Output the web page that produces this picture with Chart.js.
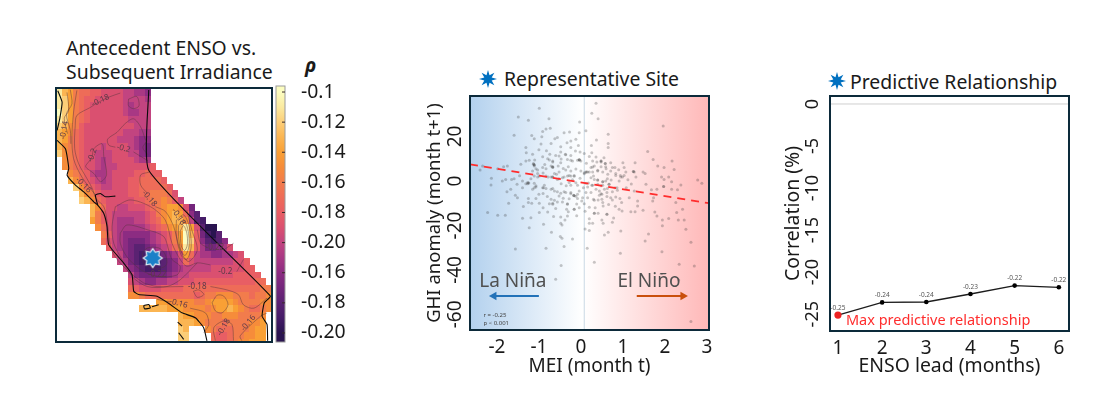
<!DOCTYPE html>
<html>
<head>
<meta charset="utf-8">
<title>ENSO and irradiance</title>
<script src="https://cdn.jsdelivr.net/npm/chart.js@4"></script>
<style>
  html, body { margin: 0; background: #fff; }
  body { position: relative; width: 1118px; height: 415px; overflow: hidden; font-family: "Noto Sans", sans-serif; color: #1a1a1a; }
  canvas { position: absolute; }
  .title { position: absolute; font-size: 19.4px; line-height: 24px; white-space: nowrap; }
  .star { position: absolute; }
</style>
</head>
<body>
<div class="title" style="left:66px;top:36px">Antecedent ENSO vs.<br>Subsequent Irradiance</div>
<div class="title" style="left:305px;top:53px;font-weight:bold;font-style:italic">ρ</div>
<div class="title" style="left:504px;top:67px">Representative Site</div>
<div class="title" style="left:850px;top:70px">Predictive Relationship</div>
<svg class="star" id="star1" style="left:479px;top:70px" width="18" height="18"></svg>
<svg class="star" id="star2" style="left:828px;top:72px" width="18" height="18"></svg>
<canvas id="map" style="left:50px;top:80px" width="225" height="270"></canvas>
<canvas id="bar" style="left:270px;top:80px" width="90" height="270"></canvas>
<canvas id="site" style="left:424px;top:90px" width="296" height="288"></canvas>
<canvas id="lead" style="left:782px;top:90px" width="298" height="288"></canvas>
<script>
const FONT = '"Noto Sans", sans-serif'
const FRAME = '#0c2a3a'

// rho x 100 on a lon/lat cell grid, each row begins at rowStart[row]
const rowStart = [0,0,0,0,0,0,0,0,0,0,1,1,2,2,3,4,4,6,6,6,7,8,8,9,10,11,12,13,13,13,13,18,15,22,22,22,22,22]
const rhoRows = [
  [-11,-13,-14,-16,-17,-17,-18,-18,-19,-19,-19,-19,-20,-20,-21,-21,-22],
  [-11,-12,-14,-16,-17,-18,-18,-19,-19,-19,-19,-19,-20,-20,-20,-20,-21],
  [-11,-12,-14,-16,-17,-18,-19,-19,-19,-19,-19,-19,-20,-21,-20,-20,-20],
  [-10,-12,-14,-16,-17,-18,-19,-19,-19,-19,-19,-19,-20,-21,-21,-20,-20],
  [-11,-12,-14,-16,-17,-18,-19,-19,-19,-19,-19,-19,-19,-20,-20,-20,-20],
  [-12,-13,-15,-16,-18,-19,-19,-19,-19,-19,-19,-19,-19,-19,-20,-20,-20],
  [-13,-14,-15,-17,-18,-19,-19,-19,-19,-19,-19,-19,-20,-20,-20,-21,-21],
  [-13,-14,-16,-17,-18,-19,-19,-19,-19,-19,-19,-20,-20,-20,-21,-22,-22],
  [-13,-15,-16,-17,-18,-19,-19,-19,-20,-19,-19,-19,-19,-20,-21,-22,-23],
  [-12,-15,-16,-17,-18,-19,-19,-20,-20,-20,-19,-19,-19,-20,-20,-22,-23],
  [-15,-16,-17,-18,-19,-19,-20,-21,-20,-19,-19,-19,-19,-20,-21,-21],
  [-15,-16,-17,-18,-19,-19,-20,-21,-20,-20,-19,-19,-19,-19,-19,-19,-18],
  [-15,-16,-17,-18,-20,-21,-21,-20,-19,-19,-19,-19,-18,-18,-17,-18,-18],
  [-13,-15,-17,-18,-19,-20,-21,-20,-19,-19,-19,-18,-18,-17,-17,-17,-17,-18],
  [-12,-15,-17,-18,-19,-20,-20,-19,-19,-19,-18,-18,-17,-17,-17,-17,-17,-18],
  [-13,-15,-16,-18,-19,-19,-19,-19,-19,-18,-18,-17,-17,-16,-16,-16,-17,-19],
  [-12,-13,-15,-17,-18,-19,-19,-19,-19,-19,-18,-18,-17,-16,-16,-15,-16,-18,-20],
  [-13,-15,-17,-19,-19,-20,-20,-19,-19,-19,-18,-17,-16,-15,-14,-14,-15,-19,-23],
  [-13,-16,-18,-19,-20,-20,-20,-20,-20,-20,-19,-18,-16,-15,-14,-13,-14,-17,-22,-24],
  [-14,-16,-18,-19,-20,-21,-21,-21,-20,-20,-19,-18,-17,-15,-14,-13,-13,-15,-20,-24,-25],
  [-15,-17,-19,-20,-21,-21,-21,-21,-21,-20,-19,-18,-17,-15,-14,-13,-11,-14,-19,-24,-26,-26],
  [-16,-18,-20,-21,-22,-22,-22,-22,-22,-21,-20,-19,-18,-16,-14,-10,-13,-18,-23,-25,-26,-24],
  [-17,-19,-20,-21,-22,-23,-23,-23,-22,-21,-20,-19,-18,-16,-14,-10,-12,-18,-22,-24,-25,-24,-22],
  [-18,-20,-21,-22,-23,-24,-24,-23,-22,-21,-20,-19,-17,-15,-11,-13,-18,-21,-23,-23,-22,-21,-19],
  [-19,-20,-22,-23,-24,-25,-25,-25,-24,-23,-22,-21,-19,-14,-17,-20,-21,-21,-22,-22,-21,-21,-20,-19],
  [-20,-21,-23,-24,-25,-25,-25,-25,-24,-23,-22,-20,-17,-19,-20,-20,-20,-20,-20,-20,-20,-19,-19,-18],
  [-20,-22,-23,-24,-25,-25,-25,-24,-23,-22,-21,-20,-20,-20,-20,-20,-19,-19,-19,-19,-19,-19,-18,-18],
  [-20,-22,-23,-23,-23,-23,-23,-22,-21,-20,-20,-19,-19,-19,-19,-19,-19,-19,-19,-18,-18,-18,-18,-18],
  [-19,-20,-21,-22,-22,-21,-21,-20,-20,-19,-19,-19,-18,-18,-18,-18,-18,-18,-18,-18,-18,-18,-18,-17,-17],
  [-17,-18,-19,-19,-19,-19,-18,-18,-18,-18,-17,-17,-17,-17,-17,-17,-17,-17,-17,-17,-17,-17,-17,-17,-16,-16],
  [-15,-15,-16,-17,-17,-17,-17,-17,-17,-17,-17,-17,-18,-17,-16,-16,-15,-15,-15,-16,-16,-16,-17,-16,-16,-15],
  [-14,-14,-15,-15,-15,-15,-15,-16,-16,-15,-14,-14,-14,-14,-15,-16,-16,-16,-16,-15,-15],
  [-13,-13,-13,-13,-13,-14,-14,-14,-15,-15,-15,-15,-16,-15,-14,-14,-13,-14,-15,-16,-17,-17,-16,-15],
  [-13,-14,-14,-15,-15,-15,-16,-16,-15,-15,-15,-16,-16,-16,-16,-15],
  [-13,-13,-13,-14,-15,-16,-16,-16,-17,-16,-16,-16,-16,-15,-15,-14],
  [-12,-13,null,null,null,-15,-16,-17,-17,-17,-16,-16,-16,-15,-14,-14],
  [-12,-12,null,null,null,null,-17,-18,-18,-17,-16,-16,-15,-15,-14,-14],
  [-12,-12,null,null,null,null,-17,-18,-18,-17,-16,-15,-15,-14,-14,-14]
]

// colour ramp, rho x 100 paired with a colour
const rampValues = [-10,-11,-12,-13,-14,-15,-16,-17,-18,-19,-20,-21,-22,-23,-24,-25,-26]
const rampColors = ['#fcfdc0','#fbeaa0','#fcce78','#fbb552','#f9a035','#f68c3a','#f27c4c','#ee6c58','#e85e64','#da5070','#c24480','#a83884','#8c2c82','#74267c','#5a2272','#451c68','#2a1450']
const barTicks = [-0.10,-0.12,-0.14,-0.16,-0.18,-0.20,-0.22,-0.24,-0.26]
const barLabels = ['-0.1','-0.12','-0.14','-0.16','-0.18','-0.20','-0.16','-0.18','-0.20']

// state outline in grid cells
const northCoast = [[.12,.25],[.91,1.96],[.48,4.41],[0,6.13]]
const mainCoast = [[0,7.6],[1.52,8.82],[2.12,11.76],[1.82,12.75],[3.33,14.2],[4.85,15.2],[6.67,16.67],[7.39,17.16],[8.48,18.38],[9.09,20.34],[9.39,23.04],[12.12,25.73],[13.64,27.45],[13.94,29.9],[14.85,30.39],[18.18,30.64],[20.6,31.86],[22.73,33.09],[25.15,33.82],[26.67,35.29],[27.27,37.25]]
const eastBorder = [[16.67,.15],[16.67,12],[38.8,30.6],[37.7,31.6],[37.3,33.6],[38.2,34.8],[38.3,37.2]]
const bayDelta = [[7.39,17.16],[6.97,15.69],[7.88,15.44],[8.79,15.93],[10.6,15.83]]
const islandA = [[15.76,32],[16.67,31.86],[16.97,32.35],[15.88,32.5],[15.76,32]]
const islandB = [[17.27,32.2],[18.48,31.9]]
const islandC = [[21.94,34.46],[22.73,35.05]]
const islandD = [[22.12,36.03],[23.03,37]]
const outlines = [northCoast, mainCoast, eastBorder, bayDelta, islandA, islandB, islandC, islandD]

// contour lines of rho in grid cells
const contours = [
  [[1.8,.5],[2.1,3.2],[1.3,4.3],[1.9,6.6]],
  [[2.4,.1],[2.7,2.2],[1.7,3.7],[2.4,6.1],[2.5,8.1]],
  [[3.6,.2],[3,3.4],[2.7,7.1],[3,10.3],[4.5,13],[7,15.7]],
  [[11.5,.6],[9.4,1.2],[7,2.2],[6.1,2.7],[3.6,3.9],[3.3,5.4],[3.2,8.8],[3.9,11],[5.4,13.2],[6.4,14.7],[7.1,16.2],[8.5,17.4],[9.1,19.6],[10,24],[13,27],[15.8,28.7]],
  [[13,1.5],[14.5,1.1],[14.9,2.5],[13.9,2.9],[13,2.5],[13,1.5]],
  [[10.6,8.6],[9.4,8.3],[9.2,7.4],[10.9,6.4],[12.4,5.1],[13.9,4.4],[15.2,5.6],[16.1,7.6]],
  [[13.9,9.3],[16.5,10.6]],
  [[6.4,10],[6.7,8.8],[8.2,8.1],[8.5,10],[9,12.7],[7.9,13.7],[6.7,12.5],[5.2,11.5],[5.8,10.7],[6.4,10]],
  [[16.2,7.8],[15.6,8.7],[16.5,9.7]],
  [[16.7,12.3],[15.2,12.7],[15.2,14.2],[16.4,15.4]],
  [[17.9,17.4],[19.7,18.1],[21.2,20.3],[22.4,23.8],[23.9,25.5],[25.5,23.8],[24.5,20.8],[23.6,17.9]],
  [[10.6,17.4],[13.3,16.4],[17,17.4],[19.7,19.4],[20.9,22.8],[22.4,25.2],[23.6,26.2],[25.5,25.7],[27.9,26]],
  [[32.7,27],[33.9,25.2]],
  [[10.6,17.4],[10,20.3],[10.3,22.8],[11.8,25.2],[13.6,27.7],[16.4,29.2],[20,29.2],[22.4,28.2],[25.5,25.7]],
  [[11.5,21.3],[12.7,20.1],[16.4,20.8],[19.4,21.8],[20.3,23.8],[20.9,25.2],[22.4,26.2],[21.8,27.5],[18.2,27.7],[15.2,26.7],[12.7,24.8],[11.5,22.8],[11.5,21.3]],
  [[15.5,24.3],[16.4,23.5],[18.5,23.5],[19.7,24.5],[19.9,26],[17.9,26.6],[15.8,25.7],[15.5,24.3]],
  [[21.7,19.4],[23,18.6],[24,20.2],[24.4,23.3],[23.6,25.2],[22.6,24.6],[21.7,21.8],[21.7,19.4]],
  [[22.1,20.2],[23,19.3],[23.8,20.8],[24,23.2],[23.3,24.6],[22.5,23.8],[22.1,21.8],[22.1,20.2]],
  [[22.4,21],[23,20.2],[23.6,21.3],[23.7,23],[23.2,23.9],[22.6,23.2],[22.4,21]],
  [[25.5,20.8],[26.1,22.8],[27.3,23.4]],
  [[30.3,23.8],[32.1,22.8]],
  [[15.8,28.7],[18.2,29.2],[23,29.2]],
  [[27.9,29.2],[30.9,29.7],[33,30.4],[33.9,31.9],[35.8,32.4],[38.2,30.9]],
  [[24.8,29.9],[25.8,29.7],[26.7,30.4],[25.5,30.8],[24.8,29.9]],
  [[28.2,31.6],[29.1,30.5],[30.3,30.6],[31.1,31.9],[30,33.1],[28.8,32.8],[28.2,31.6]],
  [[18.2,31.1],[20.6,31.5]],
  [[24.2,32.4],[27,33.1],[27.6,34.8],[26.7,36]],
  [[28.8,37.2],[28.5,35.3],[30.3,34.3],[31.8,34.8],[32.1,37.2]],
  [[33.6,37.2],[33.3,36.5],[37,33.6],[38.2,33.1]]
]
const contourText = ['-0.18','-0.14','-0.2','-0.2','-0.16','-0.18','-0.18','-0.22','-0.2','-0.22','-0.18','-0.16','-0.18','-0.16']
const contourTextAt = [[7.9,1.7],[1.3,6.1],[6.4,9.8],[12.1,8.8],[4.8,14.2],[16.8,16.2],[22.1,18.9],[28.7,23.5],[30.6,27],[18.2,27.4],[25.5,29.2],[22.1,31.7],[30.3,35.2],[34.8,34.6]]
const contourTextTurn = [-25,-80,-70,15,45,50,55,0,0,0,0,15,-60,-50]
const siteCell = [[17.4,25]]

// monthly MEI against GHI anomaly the following month
const sitePoints = [
  [-.99,32.7],[-1.49,28.8],[-1.25,27.3],[-.76,28],[-1.59,20.5],[-.03,26.5],[-.91,22.2],[-.83,23.4],[-.73,23.7],[-.93,19.9],[-1.17,20.4],[-1.11,19],
  [-.4,21.7],[-.27,22],[-.04,21.7],[-.56,19.5],[-.62,19],[-.33,17.2],[-.24,18],[-.12,18.7],[-.95,16.6],[-.71,16.8],[-.48,15.4],[-1.31,15],[-.24,15],[-.06,16],
  [.12,22.6],[-1.3,12.7],[-.91,10.9],[-.74,12],[-1.15,12],[-1.23,9.3],[-1.1,9.4],[-1.13,7.5],[-1.11,6.7],[-.91,6],[-.75,9.4],[-.67,9],[-.52,11.2],[-.37,12],
  [-.24,11.5],[-.13,13.5],[-.02,13],[.08,12.4],[-.04,9.7],[0,9],[-.2,9],[-.32,9.7],[-.48,8.2],[-.54,6.7],[-.71,6.7],[-.67,6],[-.83,5.5],[-1.03,4.9],[-1.31,9],
  [-1.43,7.5],[-1.84,6.4],[-1.75,6.7],[-1.98,5.5],[-2.34,6.7],[-2.4,4.9],[-2.13,1.2],[-2.14,-1.8],[-1.87,0],[-1.79,.7],[-1.65,.7],[-1.59,1],[-1.67,-3.7],
  [-1.76,-4.8],[-1.56,-6.4],[-1.51,-7.5],[-1.72,-10],[-1.37,-11.5],[-1.25,-7.9],[-1.25,-9.7],[-1.17,-10],[-1.07,-7.9],[-.99,-10],[-.71,-8.2],[-.67,-10],
  [-.56,-9.4],[-.44,-9.4],[-.32,-10.5],[-.34,-12.7],[-.16,-12.7],[-.04,-12],[-.16,-6.7],[-.08,-6],[.04,-7.5],[-.24,-5.2],[-.36,-5.2],[-.48,-5.5],[-.63,-4.5],
  [-.71,-3.7],[-.83,-3.4],[-.89,-3],[-1.07,-2.2],[-1.11,-1],[-1.15,-3.7],[-1.27,-.7],[-1.31,-1.2],[-1.39,0],[-1.39,-3],[-.99,2.2],[-.83,2.2],[-.71,1.8],
  [-.56,.7],[-.44,1.5],[-.32,2.2],[-.16,2.5],[0,4.5],[.08,3.7],[.16,4],[-.24,4.5],[-.36,4.9],[-.52,4],[-.63,3.4],[-1.15,4.5],[-1.03,3.4],[-1.11,2.2],[-1.19,1],
  [-.28,-.7],[-.24,-1.9],[-.08,-1.9],[.12,-1],[.06,-3],[-.04,-4.5],[.12,-5.2],[.16,-7.5],[-2.22,-14.2],[-1.98,-15.4],[-1.8,-15.4],[-1.39,-16.8],[-1.19,-16.5],
  [-.79,-13.9],[-.65,-16],[-.48,-16.2],[-.32,-15.7],[-.38,-17.5],[-.99,-14.2],
  [.36,34.9],[.26,30.4],[.41,28],[.37,18.4],[.65,21],[.65,16.8],[.65,15],[.25,16],[1.96,24.7],[1.59,13.2],[1.72,9.7],[2.17,9],[1.83,6.7],[1.98,6],[2.22,5.2],
  [.26,12.7],[.36,10.8],[.28,9],[.38,8.5],[.48,9],[.58,7.9],[.71,8.2],[1,8.2],[1.29,8.2],[1.03,6],[.81,6],[.71,4.5],[.59,6.4],[.48,6.4],[.32,6.7],[.24,6],[.28,4],
  [.4,4.5],[.52,4],[.64,3],[.83,3.4],[.94,2.5],[.99,1.8],[1.07,4],[1.25,4.3],[1.48,4],[1.53,3.4],[1.31,1.8],[1.92,1.8],[1.98,.7],[2.09,1.8],[2.16,-.4],[2.38,-1.8],
  [2.78,.4],[2.88,-1],[1.55,-1.5],[1.97,-2.5],[1.81,-3.7],[1.68,-4],[2.16,-3.7],[2.3,-4],[.91,0],[.81,-3],[.86,-3],[.67,-1.5],[.59,0],[.52,-.4],[.4,.4],[.32,.7],
  [.24,1.5],[.26,-1.9],[.48,-2.2],[.56,-3.7],[.62,-5.2],[.5,-6],[.44,-4.5],[.36,-3.7],[.24,-5.2],[.3,-8.2],[.41,-8.5],[.5,-8.2],[.52,-9.7],[.53,-11.2],[.71,-7.5],
  [.75,-8.5],[.83,-7.2],[.93,-7.9],[.97,-9.7],[1.15,-7.5],[1.27,-4.5],[1.35,-9],[1.35,-11.2],[1.71,-9],[1.73,-7.5],[2.26,-9.7],[2.42,-12.7],[1.19,-13.8],[1.29,-13.8],
  [1.48,-13.2],[.91,-12.7],[.98,-13.5],[.62,-15],[.32,-14.5],[.41,-14.5],[1.76,-13.9],[1.81,-15.7],[2.09,-16.9],[2.28,-14.2],[2.32,-17.5],[2.46,-17.5],[1.94,-17.5],
  [-1.23,-21],[-.89,-19.5],[-.7,-23.1],[-.49,-25],[-.45,-25.8],[-.2,-26.1],[-1.56,-30.6],[-.83,-30.3],[-.4,-29.5],[.15,-30.3],[.94,-32.5],[1.93,-31.8],[2.62,-27.6],
  [1.53,-27],[1.61,-23.8],[2.5,-21.7],[.65,-23.1],[.56,-24.3],[.95,-22.5],[.1,-21.6],[.2,-22.3],[.53,-19],[.75,-18.6],[.28,-19],[.2,-19],[-.48,-19],[1.94,-20.1],[-.45,-19.8],
  [2.34,-37.4],[2.7,-38.2],[.32,-36.5],[-.47,-38],[-.6,-44.2],[2.33,-44.5],[2.62,-63.2],
  [-1.11,7.2],[-1.11,7.3],[-.67,6.3],[-.67,6.4],[-1.25,-.9],[-1.24,-.9],[-1.11,-3],[-.91,-3],[-.78,1.8],[-.67,1.8],[-.04,9.4],[-.03,9.4],[.12,4],[.13,4],[-.17,-6.4],[-.17,-6.5],
  [-.16,-12.7],[-.67,-10.5],[-.24,2.2],[.48,9],[.58,7.9],[.4,.4],[1.25,4.3],[1.97,-2.5],[.62,-15],[.32,-14.5],[.67,-1.5],[.52,-1.9],
  [-1.13,7.8],[-1.07,5.5],[-.79,10],[-.67,8.5],[-.48,13],[-.36,11.8],[-.24,9.3],[-.08,9.3],[.08,3.3],[.2,4],[.28,6.3],[.4,4.8],[.48,8.5],[.6,5.5],[.75,6],[.83,2.5],[.95,1.8],[1.03,2.5],
  [1.27,4],[-.4,1.8],[-.28,2.5],[-.16,2.1],[-.67,1.8],[-1.03,1.8],[-1.27,-1.2],[-1.07,-2.7],[-.87,-1.9],[-.67,-3.4],[-.56,-4.9],[-.4,-4.9],[-.24,-5.7],[-.12,-6.9],[-.08,-7.9],[-.32,-10.2],
  [-.63,-8.7],[-.75,-10.2],[.08,-10.2],[.32,-8.7],[.48,-5.7],[.63,-3.4],[.75,-4.9],[.87,-4.2],[.16,-2.7],[.28,-1.9],[.4,-1.5],[.52,-.4],[.63,1],
  [-.9,3.6],[-.86,7.4],[-.58,3],[-.52,1],[-.47,-1.3],[-.35,-2.2],[-.2,.6],[-.12,-.8],[-.02,1.2],[-.12,5.4],[-.3,6.4],[-.42,5.6],[-.47,9.9],[-.6,11.4],[-.82,13.6],[-1,14],[-.9,-5.6],[-.8,-7],
  [-.52,-6.8],[-.42,-7.8],[-.28,-8],[-.1,-10.4],[.02,-9],[.2,-11.8],[.34,-12],[.44,-6.4],[.62,-7],[.66,-10.6],[.82,-11.4],[1.08,-3],[1.12,.6],[1.2,-1.4],[.72,.4],[.9,5],[.55,10.4],[.2,11],
  [.13,8],[.3,2.2],[.18,-.9],[-1.46,2.3],[-1.52,-1.5],[-1,-6],[-.6,-12.4],[-.9,-12],[-.3,-13.8],[.1,-13.6],[.2,-17],[-.1,-15.6],[.5,-17.5],[.78,-16.6]
]
const fitLine = [[-2.64,7.5],[3.05,-10]]
const neutralLine = [[.08,-67],[.08,38.2]]
const laNinaArrow = [[-1,-51.7],[-2.07,-51.7]]
const elNinoArrow = [[1.33,-51.7],[2.43,-51.7]]
const meiTicks = [-2,-1,0,1,2,3]
const ghiTicks = [-60,-40,-20,0,20]

// correlation (%) by ENSO lead
const leads = [1,2,3,4,5,6]
const correlation = [-25.1,-23.6,-23.55,-22.6,-21.6,-21.8]
const corrTicks = [-25,-20,-15,-10,-5,0]
const zeroLine = [[.82,0],[6.23,0]]

function rhoColor(v) {
  return rampColors[rampValues.indexOf(v)]
}

const tiles = {}
function tile(color) {
  if (!tiles[color]) {
    const c = document.createElement('canvas')
    c.width = 6
    c.height = 7
    const g = c.getContext('2d')
    g.fillStyle = color
    g.fillRect(0, 0, 6, 7)
    tiles[color] = c
  }
  return tiles[color]
}

function starPoints(cx, cy, R, r, n) {
  const pts = []
  for (let i = 0; i < n * 2; i++) {
    const a = -Math.PI / 2 + i * Math.PI / n
    const q = i % 2 ? r : R
    pts.push([cx + q * Math.cos(a), cy + q * Math.sin(a)])
  }
  return pts
}

for (const id of ['star1', 'star2']) {
  const p = starPoints(9, 9, 9, 4, 8).map(q => q.join(',')).join(' ')
  document.getElementById(id).innerHTML = `<polygon points="${p}" fill="#0070c0"/>`
}

function siteStar() {
  const c = document.createElement('canvas')
  c.width = 22
  c.height = 22
  const g = c.getContext('2d')
  g.beginPath()
  starPoints(11, 11, 9.5, 6.5, 8).forEach((p, i) => i ? g.lineTo(p[0], p[1]) : g.moveTo(p[0], p[1]))
  g.closePath()
  g.fillStyle = '#1a80c8'
  g.strokeStyle = '#e8eef4'
  g.lineWidth = 1.2
  g.fill()
  g.stroke()
  return c
}

const toXY = p => ({ x: p[0], y: p[1] })
const setTicks = vals => a => { a.ticks = vals.map(v => ({ value: v })) }
// fixed axis band with no room reserved for the end labels
const band = (side, size) => s => {
  s[side] = size
  s.paddingTop = s.paddingBottom = s.paddingLeft = s.paddingRight = 0
}
const frame = {
  id: 'frame',
  afterDraw(chart) {
    const { ctx, chartArea: a } = chart
    ctx.save()
    ctx.strokeStyle = FRAME
    ctx.lineWidth = 2
    ctx.strokeRect(a.left, a.top, a.right - a.left, a.bottom - a.top)
    ctx.restore()
  }
}

Chart.defaults.animation = false
Chart.defaults.responsive = false
Chart.defaults.font.family = FONT
Chart.defaults.layout.autoPadding = false
Chart.defaults.plugins.legend.display = false
Chart.defaults.plugins.tooltip.enabled = false

// map: cells, contours, outline and the site marker
const cells = []
rhoRows.forEach((row, j) => row.forEach((v, i) => {
  if (v !== null) cells.push({ x: rowStart[j] + i + 0.5, y: j + 0.5, rho: v })
}))

new Chart(document.getElementById('map'), {
  type: 'scatter',
  data: {
    datasets: [
      { data: siteCell.map(toXY), pointStyle: siteStar(), pointRadius: 9 },
      ...outlines.map(o => ({ type: 'line', data: o.map(toXY), borderColor: '#0b0b0b', borderWidth: 1.1, pointRadius: 0, tension: 0.15 })),
      ...contours.map(o => ({ type: 'line', data: o.map(toXY), borderColor: 'rgba(85,50,60,0.5)', borderWidth: 0.9, pointRadius: 0, tension: 0.3 })),
      { data: cells, pointRadius: 4, pointBorderWidth: 0, pointStyle: c => tile(rhoColor(c.raw.rho)) }
    ]
  },
  options: {
    layout: { padding: { left: 6, top: 8, right: 3, bottom: 8 } },
    scales: {
      x: { display: false, min: -0.2, max: 39.1 },
      y: { display: false, min: -0.15, max: 37.4, reverse: true }
    }
  },
  plugins: [frame, {
    id: 'contourText',
    afterDatasetsDraw(chart) {
      const { ctx, scales } = chart
      ctx.save()
      ctx.font = `8px ${FONT}`
      ctx.textAlign = 'center'
      ctx.textBaseline = 'middle'
      ctx.fillStyle = '#5c3a48'
      contourText.forEach((t, i) => {
        ctx.save()
        ctx.translate(scales.x.getPixelForValue(contourTextAt[i][0]), scales.y.getPixelForValue(contourTextAt[i][1]))
        ctx.rotate(contourTextTurn[i] * Math.PI / 180)
        ctx.fillText(t, 0, 0)
        ctx.restore()
      })
      ctx.restore()
    }
  }]
})

// colour bar with its own scale
new Chart(document.getElementById('bar'), {
  type: 'scatter',
  data: { datasets: [{ data: [] }] },
  options: {
    layout: { padding: { left: 6, top: 6, bottom: 8, right: 0 } },
    scales: {
      x: { display: false, min: 0, max: 1 },
      y: {
        position: 'right',
        min: -0.266,
        max: -0.096,
        afterFit: band('width', 75),
        afterBuildTicks: setTicks(barTicks),
        border: { display: false },
        grid: { display: false },
        ticks: {
          padding: 8,
          color: '#1a1a1a',
          font: { size: 19.4 },
          callback: (v, i) => barLabels[i]
        }
      }
    }
  },
  plugins: [{
    id: 'ramp',
    beforeDraw(chart) {
      const { ctx, chartArea: a, scales: { y } } = chart
      const g = ctx.createLinearGradient(0, y.getPixelForValue(-0.10), 0, y.getPixelForValue(-0.26))
      rampColors.forEach((c, i) => g.addColorStop(i / (rampColors.length - 1), c))
      ctx.save()
      ctx.fillStyle = g
      ctx.fillRect(a.left, a.top, a.right - a.left, a.bottom - a.top)
      ctx.strokeStyle = '#9a9a9a'
      ctx.lineWidth = 1
      ctx.strokeRect(a.left, a.top, a.right - a.left, a.bottom - a.top)
      ctx.strokeStyle = '#3a2a2a'
      barTicks.forEach(v => {
        const p = y.getPixelForValue(v)
        ctx.beginPath()
        ctx.moveTo(a.right - 3, p)
        ctx.lineTo(a.right, p)
        ctx.stroke()
      })
      ctx.restore()
    }
  }]
})

// scatter at the representative site
new Chart(document.getElementById('site'), {
  type: 'scatter',
  data: {
    datasets: [
      { type: 'line', data: fitLine.map(toXY), borderColor: '#ff2d2d', borderWidth: 1.7, borderDash: [8, 6], pointRadius: 0 },
      { type: 'line', data: laNinaArrow.map(toXY), borderColor: '#2372b8', backgroundColor: '#2372b8', borderWidth: 2, pointStyle: 'triangle', pointRotation: -90, pointBorderWidth: 0, pointRadius: [0, 5] },
      { type: 'line', data: elNinoArrow.map(toXY), borderColor: '#c94f0c', backgroundColor: '#c94f0c', borderWidth: 2, pointStyle: 'triangle', pointRotation: 90, pointBorderWidth: 0, pointRadius: [0, 5] },
      { data: sitePoints.map(toXY), pointRadius: 1.5, pointBorderWidth: 0, backgroundColor: 'rgba(50,50,50,0.27)' },
      { type: 'line', data: neutralLine.map(toXY), borderColor: '#c9d8e4', borderWidth: 1, pointRadius: 0 }
    ]
  },
  options: {
    layout: { padding: { top: 6, right: 11, left: 0, bottom: 0 } },
    scales: {
      x: {
        min: -2.64,
        max: 3.05,
        afterFit: band('height', 48),
        afterBuildTicks: setTicks(meiTicks),
        grid: { display: false, tickLength: 3, tickColor: '#333' },
        border: { display: false },
        ticks: { autoSkip: false, maxRotation: 0, padding: 3, color: '#1a1a1a', font: { size: 19 } },
        title: { display: true, text: 'MEI (month t)', color: '#1a1a1a', font: { size: 19 }, padding: 0 }
      },
      y: {
        min: -67,
        max: 38.2,
        afterFit: band('width', 46),
        afterBuildTicks: setTicks(ghiTicks),
        grid: { display: false, tickLength: 3, tickColor: '#333' },
        border: { display: false },
        ticks: { minRotation: 90, maxRotation: 90, crossAlign: 'center', padding: -3, color: '#1a1a1a', font: { size: 19 } },
        title: { display: true, text: 'GHI anomaly (month t+1)', color: '#1a1a1a', font: { size: 18.5 }, padding: 0 }
      }
    }
  },
  plugins: [frame, {
    id: 'background',
    beforeDatasetsDraw(chart) {
      const { ctx, chartArea: a, scales: { x } } = chart
      const g = ctx.createLinearGradient(a.left, 0, a.right, 0)
      const mid = (x.getPixelForValue(0.05) - a.left) / (a.right - a.left)
      g.addColorStop(0, '#b3d1ee')
      g.addColorStop(mid, '#ffffff')
      g.addColorStop(1, '#ffb8b8')
      ctx.save()
      ctx.fillStyle = g
      ctx.fillRect(a.left, a.top, a.right - a.left, a.bottom - a.top)
      ctx.restore()
    },
    afterDatasetsDraw(chart) {
      const { ctx, scales: { x, y } } = chart
      ctx.save()
      ctx.textAlign = 'center'
      ctx.textBaseline = 'middle'
      ctx.fillStyle = '#505050'
      ctx.font = `19px ${FONT}`
      ctx.fillText('La Niña', x.getPixelForValue(-1.62), y.getPixelForValue(-45.4))
      ctx.fillText('El Niño', x.getPixelForValue(1.62), y.getPixelForValue(-45.4))
      ctx.textAlign = 'left'
      ctx.fillStyle = '#444'
      ctx.font = `6px ${FONT}`
      ctx.fillText('r = -0.25', x.getPixelForValue(-2.32), y.getPixelForValue(-60.5))
      ctx.fillText('p < 0.001', x.getPixelForValue(-2.32), y.getPixelForValue(-64))
      ctx.restore()
    }
  }]
})

// correlation against ENSO lead
new Chart(document.getElementById('lead'), {
  type: 'line',
  data: {
    datasets: [
      {
        data: leads.map((x, i) => ({ x, y: correlation[i] })),
        borderColor: '#1c1c1c',
        borderWidth: 1.3,
        pointBorderWidth: 0,
        pointRadius: c => c.dataIndex === 0 ? 3.6 : 2.3,
        pointBackgroundColor: c => c.dataIndex === 0 ? '#ee2222' : '#000'
      },
      { data: zeroLine.map(toXY), borderColor: '#cfcfcf', borderWidth: 1, pointRadius: 0 }
    ]
  },
  options: {
    layout: { padding: { top: 6, right: 11, left: 0, bottom: 0 } },
    scales: {
      x: {
        type: 'linear',
        min: 0.82,
        max: 6.23,
        afterFit: band('height', 47),
        afterBuildTicks: setTicks(leads),
        grid: { display: false, drawTicks: false },
        border: { display: false },
        ticks: { autoSkip: false, maxRotation: 0, padding: 6, color: '#1a1a1a', font: { size: 19 } },
        title: { display: true, text: 'ENSO lead (months)', color: '#1a1a1a', font: { size: 19.4 }, padding: 0 }
      },
      y: {
        min: -27,
        max: 0.95,
        afterFit: band('width', 48),
        afterBuildTicks: setTicks(corrTicks),
        grid: { display: false, drawTicks: false },
        border: { display: false },
        ticks: { minRotation: 90, maxRotation: 90, crossAlign: 'center', padding: 4, color: '#1a1a1a', font: { size: 18 } },
        title: { display: true, text: 'Correlation (%)', color: '#1a1a1a', font: { size: 19.4 }, padding: 0 }
      }
    }
  },
  plugins: [frame, {
    id: 'valueText',
    afterDatasetsDraw(chart) {
      const { ctx, scales: { x, y } } = chart
      ctx.save()
      ctx.textAlign = 'center'
      ctx.textBaseline = 'bottom'
      ctx.fillStyle = '#555'
      ctx.font = `6.5px ${FONT}`
      correlation.forEach((v, i) => {
        ctx.fillText((v / 100).toFixed(2), x.getPixelForValue(leads[i]), y.getPixelForValue(v) - 4)
      })
      ctx.textAlign = 'left'
      ctx.textBaseline = 'middle'
      ctx.fillStyle = '#ff2d2d'
      ctx.font = `14.5px ${FONT}`
      ctx.fillText('Max predictive relationship', x.getPixelForValue(1.18), y.getPixelForValue(-25.8))
      ctx.restore()
    }
  }]
})
</script>
</body>
</html>
